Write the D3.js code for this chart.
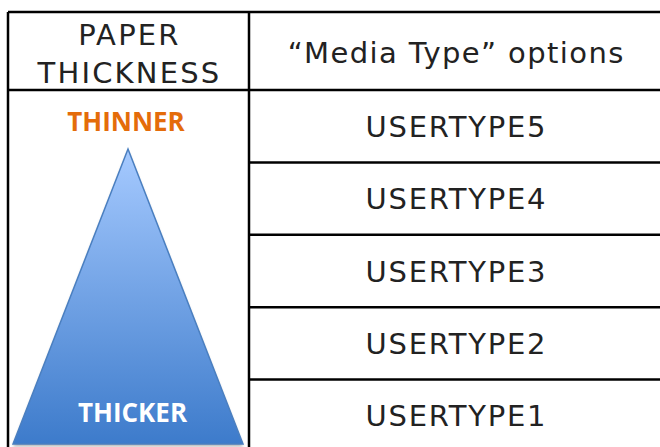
<!DOCTYPE html>
<html>
<head>
<meta charset="utf-8">
<script src="https://cdn.jsdelivr.net/npm/d3@7"></script>
<style>
  html, body { margin: 0; padding: 0; background: #fff; }
  svg { display: block; }
</style>
</head>
<body>
<svg id="chart" width="660" height="447"></svg>
<script>
// ---- data ----
const headerLeft = ["PAPER", "THICKNESS"];
const headerRight = ["\u201CMedia Type\u201D options"];
const mediaTypes = ["USERTYPE5", "USERTYPE4", "USERTYPE3", "USERTYPE2", "USERTYPE1"];
const thicknessEnds = ["THINNER", "THICKER"];

// ---- layout ----
const X0 = 8, XMID = 249, X1 = 664, Y0 = 12, YHEAD = 90, Y1 = 452;
const svg = d3.select("#chart");
const FONT = "'DejaVu Sans', Verdana, sans-serif";

const y = d3.scaleBand().domain(mediaTypes).range([YHEAD, Y1]);

// gradient
const defs = svg.append("defs");
const grad = defs.append("linearGradient").attr("id", "tri").attr("x1", 0).attr("y1", 0).attr("x2", 0).attr("y2", 1);
grad.append("stop").attr("offset", "0%").attr("stop-color", "#a6caff");
grad.append("stop").attr("offset", "100%").attr("stop-color", "#3d7bcb");
const blur = defs.append("filter").attr("id", "shadow").attr("x", "-10%").attr("y", "-10%").attr("width", "120%").attr("height", "130%");
blur.append("feGaussianBlur").attr("stdDeviation", 1.5);

// triangle (scale across left column)
const tx = d3.scaleLinear().domain([0, 1]).range([13, 243]);
const ty = d3.scaleLinear().domain([0, 1]).range([149, 444]);
const triPts = [[0.5, 0], [1, 1], [0, 1]];
const line = d3.line().x(d => tx(d[0])).y(d => ty(d[1]));
svg.append("path").attr("d", d3.line().x(d => tx(d[0])).y(d => ty(d[1]) + 2.5)(triPts) + "Z")
  .attr("fill", "#777").attr("opacity", 0.55).attr("filter", "url(#shadow)");
svg.append("path").attr("d", line(triPts) + "Z")
  .attr("fill", "url(#tri)").attr("stroke", "#4a7fc0").attr("stroke-width", 1.5).attr("stroke-linejoin", "miter");

// table lines
const g = svg.append("g").attr("stroke", "#000").attr("stroke-width", 2.5);
g.append("line").attr("x1", X0).attr("x2", X1).attr("y1", Y0).attr("y2", Y0);
g.append("line").attr("x1", X0).attr("x2", X0).attr("y1", Y0).attr("y2", Y1);
g.append("line").attr("x1", XMID).attr("x2", XMID).attr("y1", Y0).attr("y2", Y1);
g.append("line").attr("x1", X0).attr("x2", X1).attr("y1", YHEAD).attr("y2", YHEAD);
g.selectAll("line.row").data(mediaTypes.slice(1)).enter().append("line").attr("class", "row")
  .attr("x1", XMID).attr("x2", X1).attr("y1", d => y(d)).attr("y2", d => y(d));

// header texts
const cxL = (X0 + XMID) / 2, cxR = (XMID + 662) / 2;
svg.selectAll("text.hl").data(headerLeft).enter().append("text").attr("class", "hl")
  .attr("x", cxL + 1).attr("y", (d, i) => 45 + i * 38)
  .attr("text-anchor", "middle").attr("font-family", FONT).attr("font-size", 29)
  .attr("letter-spacing", 2.2).attr("fill", "#222").text(d => d);
svg.selectAll("text.hr").data(headerRight).enter().append("text").attr("class", "hr")
  .attr("x", cxR + 0.7).attr("y", 63)
  .attr("text-anchor", "middle").attr("font-family", FONT).attr("font-size", 29)
  .attr("letter-spacing", 1.4).attr("fill", "#222").text(d => d);

// media type rows
svg.selectAll("text.mt").data(mediaTypes).enter().append("text").attr("class", "mt")
  .attr("x", cxR + 0.9).attr("y", d => y(d) + y.bandwidth() / 2 + 10.5)
  .attr("text-anchor", "middle").attr("font-family", FONT).attr("font-size", 29)
  .attr("letter-spacing", 1.8).attr("fill", "#222").text(d => d);

// thinner / thicker
svg.append("text").attr("x", 126).attr("y", 131).attr("text-anchor", "middle")
  .attr("font-family", "'Open Sans', sans-serif").attr("font-weight", "bold").attr("font-size", 26)
  .attr("fill", "#e46c0a").text(thicknessEnds[0]);
svg.append("text").attr("x", 132.5).attr("y", 422).attr("text-anchor", "middle")
  .attr("font-family", "'Open Sans', sans-serif").attr("font-weight", "bold").attr("font-size", 26)
  .attr("fill", "#ffffff").text(thicknessEnds[1]);
</script>
</body>
</html>
